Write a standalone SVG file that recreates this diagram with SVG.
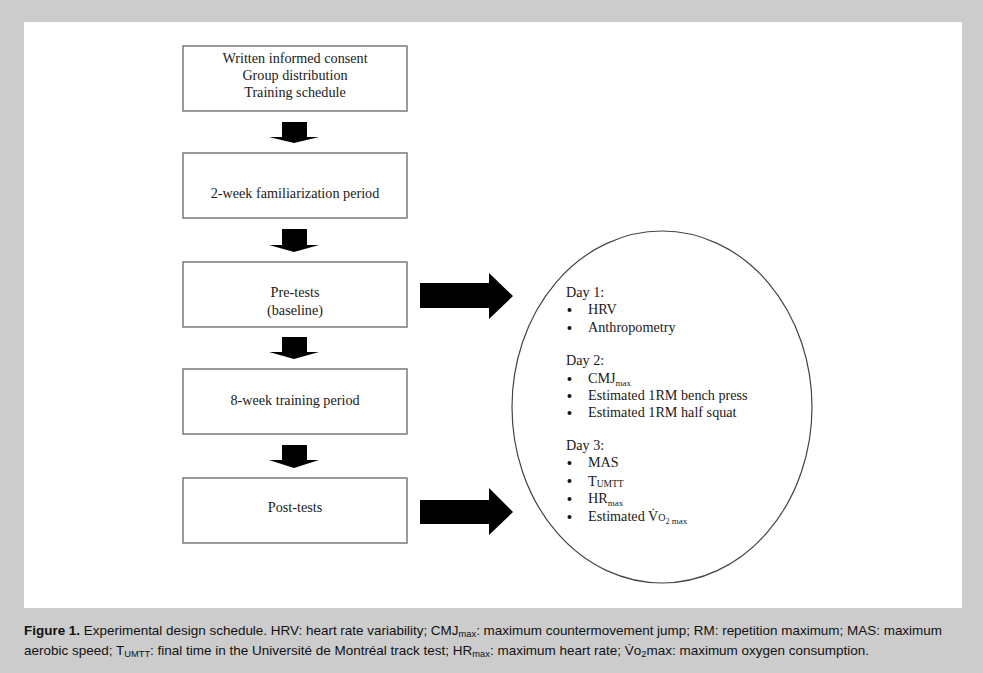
<svg xmlns="http://www.w3.org/2000/svg" width="983" height="673" viewBox="0 0 983 673">
<style>
.box{fill:#fff;stroke:#7a7a7a;stroke-width:1.5}
.bt{font-family:"Liberation Serif","Times New Roman",serif;font-size:14.2px;fill:#1a1a1a;text-anchor:middle}
.lt{font-family:"Liberation Serif","Times New Roman",serif;font-size:14.2px;fill:#1a1a1a}
.bu{fill:#111}
.arr{fill:#000}
.cap{font-family:"Liberation Sans Narrow","Liberation Sans",Arial,sans-serif;font-size:13px;fill:#111}
</style>
<rect x="0" y="0" width="983" height="673" fill="#cccccc"/>
<rect x="24" y="22" width="938" height="586" fill="#ffffff"/>

<g id="n1">
<rect class="box" x="183" y="46" width="224" height="65"/>
<text class="bt" x="295" y="63">Written informed consent</text>
<text class="bt" x="295" y="80">Group distribution</text>
<text class="bt" x="295" y="97">Training schedule</text>
</g>
<g id="n2">
<rect class="box" x="183" y="153" width="224" height="65"/>
<text class="bt" x="295" y="198">2-week familiarization period</text>
</g>
<g id="n3">
<rect class="box" x="183" y="262" width="224" height="65"/>
<text class="bt" x="295" y="297">Pre-tests</text>
<text class="bt" x="295" y="315">(baseline)</text>
</g>
<g id="n4">
<rect class="box" x="183" y="369" width="224" height="65"/>
<text class="bt" x="295" y="405">8-week training period</text>
</g>
<g id="n5">
<rect class="box" x="183" y="478" width="224" height="65"/>
<text class="bt" x="295" y="512">Post-tests</text>
</g>

<g id="n6">
<ellipse cx="662" cy="407" rx="150" ry="176" fill="#fff" stroke="#444" stroke-width="1.2"/>
<text class="lt" x="566" y="297">Day 1:</text>
<circle class="bu" cx="569.5" cy="310" r="2"/><text class="lt" x="588" y="314">HRV</text>
<circle class="bu" cx="569.5" cy="328" r="2"/><text class="lt" x="588" y="332">Anthropometry</text>
<text class="lt" x="566" y="365">Day 2:</text>
<circle class="bu" cx="569.5" cy="379" r="2"/><text class="lt" x="588" y="383">CMJ<tspan font-size="9" dy="3">max</tspan></text>
<circle class="bu" cx="569.5" cy="396" r="2"/><text class="lt" x="588" y="400">Estimated 1RM bench press</text>
<circle class="bu" cx="569.5" cy="413" r="2"/><text class="lt" x="588" y="417">Estimated 1RM half squat</text>
<text class="lt" x="566" y="450">Day 3:</text>
<circle class="bu" cx="569.5" cy="463" r="2"/><text class="lt" x="588" y="467">MAS</text>
<circle class="bu" cx="569.5" cy="481" r="2"/><text class="lt" x="588" y="486">T<tspan font-size="9.5" dy="1">UMTT</tspan></text>
<circle class="bu" cx="569.5" cy="499" r="2"/><text class="lt" x="588" y="503">HR<tspan font-size="9" dy="3">max</tspan></text>
<circle class="bu" cx="569.5" cy="517" r="2"/><text class="lt" x="588" y="521">Estimated V̇<tspan font-size="10">O</tspan><tspan font-size="8" dy="3">2</tspan><tspan font-size="9" dy="0"> max</tspan></text>
</g>

<g id="connectors">
<polygon class="arr" points="282,122 307,122 307,137 319,137 294,143 269,137 282,137"/>
<polygon class="arr" points="282,229 307,229 307,245 319,245 294,252 269,245 282,245"/>
<polygon class="arr" points="282,337 307,337 307,352 319,352 294,359 269,352 282,352"/>
<polygon class="arr" points="282,445 307,445 307,460 319,460 294,468 269,460 282,460"/>
<polygon class="arr" points="420,283 489,283 489,273 513,296 489,319 489,308 420,308"/>
<polygon class="arr" points="420,500 489,500 489,488 513,512 489,535 489,524 420,524"/>
</g>

<g id="caption">
<text class="cap" x="24" y="635" textLength="918" lengthAdjust="spacingAndGlyphs"><tspan font-weight="bold">Figure 1.</tspan> Experimental design schedule. HRV: heart rate variability; CMJ<tspan font-size="9" dy="2">max</tspan><tspan dy="-2">: maximum countermovement jump; RM: repetition maximum; MAS: maximum</tspan></text>
<text class="cap" x="24" y="655" textLength="845" lengthAdjust="spacingAndGlyphs">aerobic speed; T<tspan font-size="9" dy="2">UMTT</tspan><tspan dy="-2">: final time in the Université de Montréal track test; HR</tspan><tspan font-size="9" dy="2">max</tspan><tspan dy="-2">: maximum heart rate; V̇o</tspan><tspan font-size="9" dy="2">2</tspan><tspan dy="-2">max: maximum oxygen consumption.</tspan></text>
</g>
</svg>
